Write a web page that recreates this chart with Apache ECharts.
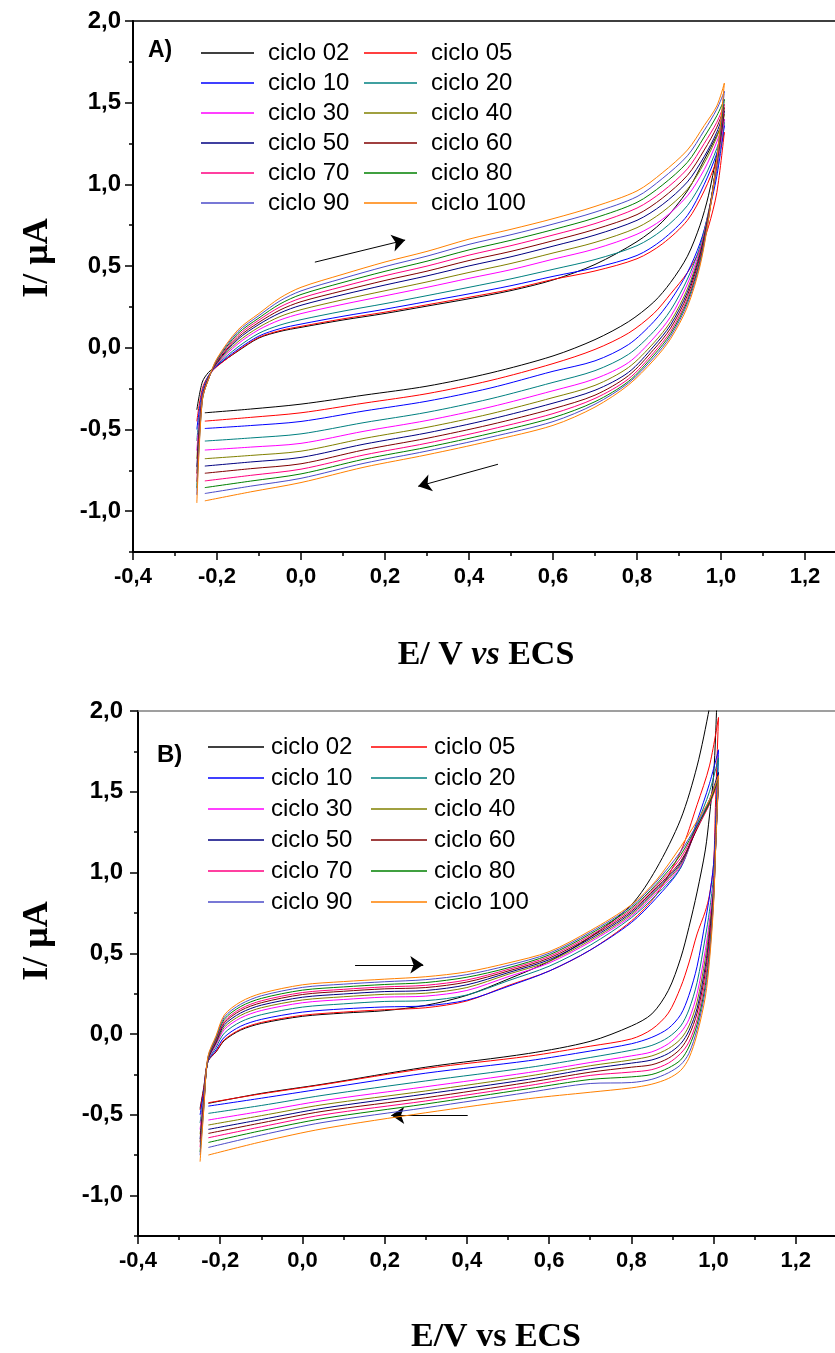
<!DOCTYPE html>
<html>
<head>
<meta charset="utf-8">
<title>Voltametria ciclica</title>
<script src="https://cdn.jsdelivr.net/npm/echarts@6.0.0/dist/echarts.min.js"></script>
<style>
  html, body { margin: 0; padding: 0; background: #fff; }
  #chart { width: 835px; height: 1353px; }
</style>
</head>
<body>
<div id="chart"></div>
<script>
// ciclos registrados
var cycles = ['ciclo 02', 'ciclo 05', 'ciclo 10', 'ciclo 20', 'ciclo 30', 'ciclo 40',
              'ciclo 50', 'ciclo 60', 'ciclo 70', 'ciclo 80', 'ciclo 90', 'ciclo 100'];
var colors = ['#000000', '#ff0000', '#0000ff', '#008080', '#ff00ff', '#808000',
              '#000080', '#800000', '#ff0080', '#008000', '#4b4bc8', '#ff8000'];

// ticks
var xTicks = [-0.4, -0.2, 0.0, 0.2, 0.4, 0.6, 0.8, 1.0, 1.2];
var yTicks = [-1.0, -0.5, 0.0, 0.5, 1.0, 1.5, 2.0];
var yMinorTicks = [-1.25, -0.75, -0.25, 0.25, 0.75, 1.25, 1.75];

// ---- painel A ----
// potenciais (V) da varredura anodica e catodica
var aFwdE = [-0.248, -0.235, -0.22, -0.2, -0.15, -0.1, -0.05, 0.0, 0.1, 0.2, 0.3, 0.4, 0.5, 0.6, 0.7, 0.8, 0.86, 0.92, 0.96, 0.99, 1.008];
var aRevE = [0.99, 0.97, 0.95, 0.92, 0.88, 0.84, 0.78, 0.7, 0.6, 0.45, 0.3, 0.15, 0.0, -0.12, -0.229];
// corrente (uA), uma linha por ciclo
var aFwdI = [
  [-0.38, -0.21, -0.15, -0.11, -0.02, 0.06, 0.10, 0.125, 0.17, 0.21, 0.255, 0.30, 0.35, 0.415, 0.51, 0.65, 0.77, 0.96, 1.15, 1.30, 1.40],
  [-0.45, -0.25, -0.17, -0.115, -0.017, 0.064, 0.105, 0.131, 0.177, 0.218, 0.263, 0.309, 0.357, 0.418, 0.47, 0.545, 0.635, 0.78, 0.96, 1.15, 1.32],
  [-0.50, -0.27, -0.17, -0.11, -0.009, 0.072, 0.117, 0.145, 0.193, 0.236, 0.283, 0.330, 0.380, 0.437, 0.49, 0.565, 0.66, 0.81, 1.0, 1.19, 1.36],
  [-0.57, -0.28, -0.175, -0.105, 0.005, 0.089, 0.139, 0.172, 0.224, 0.270, 0.319, 0.370, 0.422, 0.48, 0.54, 0.625, 0.72, 0.87, 1.04, 1.22, 1.38],
  [-0.63, -0.29, -0.18, -0.10, 0.024, 0.111, 0.170, 0.209, 0.266, 0.318, 0.370, 0.425, 0.478, 0.542, 0.605, 0.695, 0.785, 0.93, 1.09, 1.26, 1.40],
  [-0.68, -0.30, -0.18, -0.095, 0.037, 0.126, 0.191, 0.233, 0.294, 0.349, 0.403, 0.461, 0.516, 0.58, 0.645, 0.735, 0.83, 0.97, 1.13, 1.29, 1.43],
  [-0.73, -0.30, -0.185, -0.09, 0.052, 0.143, 0.213, 0.260, 0.325, 0.384, 0.440, 0.501, 0.557, 0.622, 0.69, 0.78, 0.875, 1.015, 1.17, 1.32, 1.45],
  [-0.77, -0.31, -0.185, -0.085, 0.063, 0.156, 0.231, 0.282, 0.349, 0.412, 0.469, 0.534, 0.590, 0.655, 0.725, 0.815, 0.915, 1.055, 1.21, 1.35, 1.47],
  [-0.82, -0.31, -0.19, -0.08, 0.075, 0.170, 0.250, 0.304, 0.375, 0.441, 0.500, 0.567, 0.625, 0.69, 0.76, 0.855, 0.955, 1.095, 1.25, 1.38, 1.49],
  [-0.86, -0.32, -0.19, -0.075, 0.087, 0.183, 0.268, 0.326, 0.400, 0.468, 0.530, 0.599, 0.658, 0.723, 0.795, 0.89, 0.995, 1.135, 1.29, 1.42, 1.52],
  [-0.90, -0.32, -0.19, -0.07, 0.099, 0.197, 0.287, 0.348, 0.425, 0.497, 0.561, 0.633, 0.692, 0.757, 0.83, 0.925, 1.035, 1.175, 1.33, 1.46, 1.57],
  [-0.95, -0.32, -0.19, -0.065, 0.11, 0.21, 0.305, 0.37, 0.45, 0.525, 0.59, 0.665, 0.725, 0.79, 0.865, 0.96, 1.07, 1.21, 1.36, 1.48, 1.62]
];
var aRevI = [
  [1.18, 0.93, 0.75, 0.56, 0.40, 0.28, 0.16, 0.05, -0.05, -0.155, -0.235, -0.29, -0.345, -0.375, -0.398],
  [0.95, 0.74, 0.60, 0.46, 0.33, 0.21, 0.09, -0.01, -0.097, -0.201, -0.281, -0.339, -0.398, -0.426, -0.449],
  [1.05, 0.82, 0.64, 0.46, 0.29, 0.16, 0.02, -0.08, -0.144, -0.247, -0.327, -0.387, -0.451, -0.476, -0.494],
  [1.08, 0.83, 0.62, 0.42, 0.23, 0.10, -0.04, -0.14, -0.212, -0.313, -0.395, -0.458, -0.527, -0.552, -0.571],
  [1.10, 0.82, 0.60, 0.39, 0.19, 0.06, -0.09, -0.19, -0.263, -0.363, -0.445, -0.511, -0.585, -0.608, -0.626],
  [1.12, 0.82, 0.585, 0.36, 0.16, 0.03, -0.12, -0.23, -0.305, -0.405, -0.487, -0.555, -0.633, -0.659, -0.679],
  [1.13, 0.81, 0.57, 0.34, 0.14, 0.01, -0.15, -0.26, -0.339, -0.438, -0.521, -0.590, -0.671, -0.699, -0.724],
  [1.14, 0.80, 0.555, 0.32, 0.12, -0.01, -0.17, -0.29, -0.373, -0.471, -0.554, -0.625, -0.710, -0.740, -0.768],
  [1.14, 0.795, 0.54, 0.30, 0.10, -0.03, -0.19, -0.31, -0.403, -0.500, -0.584, -0.656, -0.743, -0.781, -0.815],
  [1.15, 0.79, 0.53, 0.285, 0.085, -0.045, -0.205, -0.33, -0.428, -0.525, -0.609, -0.682, -0.772, -0.816, -0.856],
  [1.15, 0.785, 0.515, 0.27, 0.07, -0.06, -0.215, -0.345, -0.452, -0.548, -0.632, -0.707, -0.799, -0.847, -0.892],
  [1.15, 0.78, 0.50, 0.25, 0.055, -0.075, -0.227, -0.363, -0.475, -0.571, -0.655, -0.731, -0.825, -0.882, -0.937]
];

// ---- painel B ----
var bFwdE = [-0.249, -0.24, -0.23, -0.21, -0.19, -0.15, -0.1, 0.0, 0.1, 0.2, 0.3, 0.4, 0.5, 0.6, 0.7, 0.8, 0.86, 0.92, 0.96, 0.99, 1.012];
var bRevE = [1.005, 1.0, 0.99, 0.98, 0.96, 0.94, 0.92, 0.89, 0.85, 0.8, 0.7, 0.55, 0.3, 0.05, -0.1, -0.229];
var bFwdI = [
  [-0.46, -0.33, -0.17, -0.11, -0.04, 0.025, 0.066, 0.11, 0.13, 0.145, 0.178, 0.24, 0.34, 0.45, 0.60, 0.80, 1.02, 1.33, 1.66, 2.02, 2.35],
  [-0.47, -0.34, -0.17, -0.107, -0.035, 0.030, 0.072, 0.116, 0.136, 0.151, 0.163, 0.205, 0.30, 0.39, 0.52, 0.70, 0.86, 1.13, 1.42, 1.66, 1.96],
  [-0.50, -0.36, -0.17, -0.097, -0.019, 0.049, 0.091, 0.136, 0.156, 0.168, 0.175, 0.21, 0.295, 0.39, 0.52, 0.69, 0.84, 1.03, 1.32, 1.55, 1.76],
  [-0.55, -0.38, -0.17, -0.081, 0.006, 0.076, 0.12, 0.167, 0.187, 0.202, 0.207, 0.242, 0.33, 0.42, 0.55, 0.72, 0.86, 1.03, 1.30, 1.50, 1.71],
  [-0.59, -0.40, -0.165, -0.067, 0.028, 0.100, 0.146, 0.194, 0.214, 0.229, 0.235, 0.27, 0.355, 0.44, 0.57, 0.73, 0.875, 1.04, 1.28, 1.43, 1.58],
  [-0.62, -0.41, -0.16, -0.058, 0.042, 0.116, 0.163, 0.211, 0.231, 0.246, 0.253, 0.288, 0.37, 0.45, 0.58, 0.74, 0.885, 1.05, 1.28, 1.44, 1.60],
  [-0.65, -0.42, -0.16, -0.05, 0.056, 0.131, 0.179, 0.228, 0.248, 0.263, 0.270, 0.305, 0.38, 0.46, 0.59, 0.75, 0.895, 1.06, 1.28, 1.45, 1.62],
  [-0.67, -0.43, -0.155, -0.041, 0.069, 0.146, 0.194, 0.245, 0.265, 0.280, 0.288, 0.322, 0.39, 0.47, 0.60, 0.76, 0.905, 1.07, 1.27, 1.43, 1.58],
  [-0.70, -0.44, -0.15, -0.035, 0.079, 0.157, 0.206, 0.257, 0.277, 0.292, 0.302, 0.335, 0.40, 0.48, 0.61, 0.77, 0.915, 1.09, 1.28, 1.42, 1.57],
  [-0.73, -0.45, -0.15, -0.027, 0.092, 0.171, 0.221, 0.272, 0.292, 0.307, 0.319, 0.352, 0.41, 0.49, 0.62, 0.78, 0.925, 1.11, 1.29, 1.43, 1.58],
  [-0.75, -0.46, -0.145, -0.018, 0.105, 0.185, 0.237, 0.289, 0.309, 0.324, 0.337, 0.368, 0.425, 0.50, 0.63, 0.79, 0.94, 1.13, 1.30, 1.45, 1.60],
  [-0.79, -0.47, -0.14, -0.01, 0.118, 0.20, 0.252, 0.305, 0.325, 0.34, 0.355, 0.385, 0.44, 0.51, 0.64, 0.80, 0.95, 1.16, 1.32, 1.45, 1.60]
];
var bRevI = [
  [1.85, 1.60, 1.35, 1.14, 0.88, 0.66, 0.47, 0.27, 0.125, 0.05, -0.045, -0.12, -0.205, -0.31, -0.367, -0.429],
  [1.45, 1.05, 0.86, 0.76, 0.62, 0.44, 0.29, 0.13, 0.03, -0.03, -0.075, -0.137, -0.213, -0.313, -0.37, -0.425],
  [1.30, 1.05, 0.85, 0.70, 0.42, 0.24, 0.12, 0.035, -0.02, -0.06, -0.105, -0.165, -0.242, -0.338, -0.397, -0.446],
  [1.25, 0.98, 0.76, 0.60, 0.32, 0.15, 0.05, -0.02, -0.07, -0.10, -0.145, -0.207, -0.29, -0.379, -0.442, -0.491],
  [1.20, 0.93, 0.70, 0.52, 0.25, 0.09, 0.01, -0.06, -0.11, -0.135, -0.176, -0.238, -0.326, -0.412, -0.478, -0.532],
  [1.18, 0.90, 0.66, 0.47, 0.20, 0.05, -0.03, -0.09, -0.135, -0.16, -0.196, -0.26, -0.352, -0.437, -0.505, -0.563],
  [1.17, 0.88, 0.62, 0.42, 0.16, 0.02, -0.06, -0.12, -0.16, -0.18, -0.215, -0.28, -0.371, -0.459, -0.529, -0.590],
  [1.16, 0.86, 0.59, 0.38, 0.13, -0.01, -0.09, -0.15, -0.19, -0.205, -0.236, -0.299, -0.394, -0.478, -0.55, -0.615],
  [1.15, 0.84, 0.55, 0.34, 0.09, -0.05, -0.12, -0.18, -0.22, -0.235, -0.256, -0.319, -0.414, -0.50, -0.574, -0.642],
  [1.15, 0.83, 0.51, 0.30, 0.06, -0.08, -0.16, -0.21, -0.25, -0.265, -0.281, -0.338, -0.433, -0.523, -0.598, -0.671],
  [1.15, 0.82, 0.48, 0.27, 0.03, -0.12, -0.19, -0.24, -0.28, -0.30, -0.306, -0.361, -0.456, -0.547, -0.625, -0.702],
  [1.15, 0.80, 0.45, 0.23, 0.0, -0.15, -0.225, -0.275, -0.31, -0.333, -0.36, -0.40, -0.487, -0.586, -0.667, -0.749]
];

// setas indicando sentido da varredura [E, I]
var aArrows = [[[0.033, 0.524], [0.248, 0.659]], [[0.469, -0.713], [0.279, -0.848]]];
var bArrows = [[[0.128, 0.429], [0.294, 0.429]], [[0.402, -0.503], [0.216, -0.503]]];

var chart = echarts.init(document.getElementById('chart'), null, { renderer: 'canvas' });

var sansFont = '"Liberation Sans", Arial, sans-serif';
var serifFont = '"Liberation Serif", "Times New Roman", serif';

function fmt(v) {
  return v.toFixed(1).replace('.', ',');
}

function loop(fE, fI, rE, rI) {
  var pts = [];
  for (var i = 0; i < fE.length; i++) pts.push([fE[i], fI[i]]);
  for (var j = 0; j < rE.length; j++) pts.push([rE[j], rI[j]]);
  return pts;
}

function xAxes(grid, topColor) {
  return [{
    gridIndex: grid, type: 'value', position: 'bottom',
    min: -0.4, max: 1.4, interval: 0.2,
    axisLine: { onZero: false, lineStyle: { color: '#000', width: 2 } },
    axisTick: { length: 8, lineStyle: { color: '#000', width: 1.5 } },
    minorTick: { show: true, splitNumber: 2, length: 4, lineStyle: { color: '#000', width: 1.5 } },
    axisLabel: { formatter: fmt, margin: 14, color: '#000', fontFamily: sansFont, fontWeight: 'bold', fontSize: 22 },
    splitLine: { show: false }, minorSplitLine: { show: false }
  }, {
    gridIndex: grid, type: 'value', position: 'top',
    min: -0.4, max: 1.4,
    axisLine: { onZero: false, lineStyle: { color: topColor, width: 1.5 } },
    axisTick: { show: false }, axisLabel: { show: false }, splitLine: { show: false }
  }];
}

function yAxes(grid, margin) {
  return [{
    gridIndex: grid, type: 'value', position: 'left',
    min: -1.25, max: 2.0, interval: 0.25,
    axisLine: { show: true, onZero: false, lineStyle: { color: '#000', width: 2 } },
    axisTick: { customValues: yTicks, length: 8, lineStyle: { color: '#000', width: 1.5 } },
    axisLabel: { customValues: yTicks, formatter: fmt, margin: margin, color: '#000', fontFamily: sansFont, fontWeight: 'bold', fontSize: 24 },
    splitLine: { show: false }
  }, {
    gridIndex: grid, type: 'value', position: 'left',
    min: -1.25, max: 2.0, interval: 0.25,
    axisLine: { show: false, onZero: false },
    axisTick: { customValues: yMinorTicks, length: 4, lineStyle: { color: '#000', width: 1.5 } },
    axisLabel: { show: false },
    splitLine: { show: false }
  }];
}

function panelSeries(fE, fI, rE, rI, xi, yi, arrows) {
  var out = [];
  for (var k = 0; k < cycles.length; k++) {
    var s = {
      name: cycles[k],
      type: 'line',
      xAxisIndex: xi,
      yAxisIndex: yi,
      data: loop(fE, fI[k], rE, rI[k]),
      showSymbol: false,
      symbol: 'none',
      smooth: 0.3,
      clip: true,
      lineStyle: { color: colors[k], width: 1 },
      itemStyle: { color: colors[k] },
      emphasis: { disabled: true },
      z: 2 + k
    };
    if (k === 0) {
      s.markLine = {
        silent: true,
        symbol: ['none', 'arrow'],
        symbolSize: 13,
        label: { show: false },
        lineStyle: { color: '#000', width: 1, type: 'solid' },
        emphasis: { disabled: true },
        data: arrows.map(function (a) {
          return [{ coord: a[0] }, { coord: a[1] }];
        })
      };
    }
    out.push(s);
  }
  return out;
}

function legendCol(names, left, top, width, gap, textPad) {
  return {
    orient: 'vertical', left: left, top: top, padding: 0,
    icon: 'rect', itemWidth: width, itemHeight: 1.5, itemGap: gap,
    selectedMode: false,
    data: names,
    textStyle: { fontFamily: sansFont, fontSize: 24, color: '#000', lineHeight: 24, padding: [0, 0, 0, textPad] }
  };
}

var leftNames = cycles.filter(function (c, i) { return i % 2 === 0; });
var rightNames = cycles.filter(function (c, i) { return i % 2 === 1; });

var option = {
  animation: false,
  backgroundColor: '#fff',
  grid: [
    { left: 133, top: 21, width: 756, height: 531, outerBoundsMode: 'none', containLabel: false },
    { left: 138, top: 711, width: 740, height: 525, outerBoundsMode: 'none', containLabel: false }
  ],
  xAxis: xAxes(0, '#000').concat(xAxes(1, '#808080')),
  yAxis: yAxes(0, 12).concat(yAxes(1, 15)),
  legend: [
    legendCol(leftNames, 201, 41, 53, 6, 9),
    legendCol(rightNames, 364, 41, 53, 6, 9),
    legendCol(leftNames, 208, 735, 56, 7, 2),
    legendCol(rightNames, 371, 735, 56, 7, 2)
  ],
  series: panelSeries(aFwdE, aFwdI, aRevE, aRevI, 0, 0, aArrows)
    .concat(panelSeries(bFwdE, bFwdI, bRevE, bRevI, 2, 2, bArrows)),
  graphic: [
    { type: 'text', left: 148, top: 39, style: { text: 'A)', font: 'bold 23px ' + sansFont, fill: '#000' } },
    { type: 'text', left: 157, top: 743, style: { text: 'B)', font: 'bold 24px ' + sansFont, fill: '#000' } },
    { type: 'text', x: 38, y: 258, rotation: Math.PI / 2,
      style: { text: 'I/ μA', font: 'bold 36px ' + serifFont, fill: '#000', align: 'center', verticalAlign: 'middle' } },
    { type: 'text', x: 38, y: 941, rotation: Math.PI / 2,
      style: { text: 'I/ μA', font: 'bold 36px ' + serifFont, fill: '#000', align: 'center', verticalAlign: 'middle' } },
    { type: 'text', x: 486, y: 655,
      style: {
        text: '{b|E/ V }{i|vs}{b| ECS}', align: 'center', verticalAlign: 'middle',
        rich: {
          b: { font: 'bold 34px ' + serifFont, fill: '#000' },
          i: { font: 'italic bold 34px ' + serifFont, fill: '#000' }
        }
      } },
    { type: 'text', x: 496, y: 1337,
      style: { text: 'E/V vs ECS', font: 'bold 34px ' + serifFont, fill: '#000', align: 'center', verticalAlign: 'middle' } }
  ]
};

chart.setOption(option);
</script>
</body>
</html>
